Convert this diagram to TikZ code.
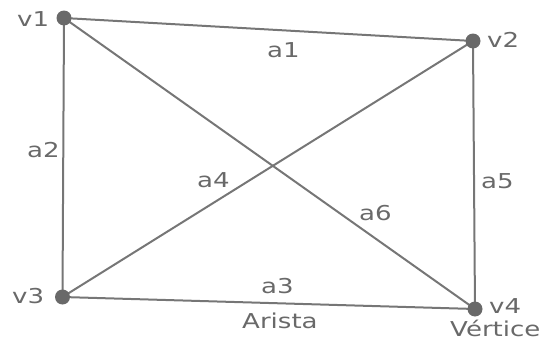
\documentclass[tikz,border=0pt]{standalone}
\usepackage{fontspec}
\setmainfont[FakeStretch=1.27]{DejaVu Sans}
\begin{document}
\begin{tikzpicture}[x=1pt,y=-1pt,
  edge/.style={draw=linegray,line width=2pt},
  vdot/.style={circle,fill=dotgray,minimum size=15pt,inner sep=0pt},
  lbl/.style={anchor=base west,inner sep=0pt,text=textgray,font=\fontsize{20.5}{20.5}\selectfont}]
\definecolor{linegray}{RGB}{118,118,118}
\definecolor{dotgray}{RGB}{105,105,105}
\definecolor{textgray}{RGB}{105,105,105}
\useasboundingbox (0,0) rectangle (542,340);
\coordinate (v1) at (64,18);
\coordinate (v2) at (473,41);
\coordinate (v3) at (62.5,297);
\coordinate (v4) at (475,309);
\draw[edge] (v1) -- (v2);
\draw[edge] (v1) -- (v3);
\draw[edge] (v3) -- (v4);
\draw[edge] (v2) -- (v4);
\draw[edge] (v1) -- (v4);
\draw[edge] (v3) -- (v2);
\node[vdot] (d1) at (v1) {};
\node[vdot] (d2) at (v2) {};
\node[vdot] (d3) at (v3) {};
\node[vdot] (d4) at (v4) {};
\node[lbl] (t1) at (17,27) {v1};
\node[lbl] (t2) at (487,48) {v2};
\node[lbl] (t3) at (12,303) {v3};
\node[lbl] (t4) at (489,313) {v4};
\node[lbl] (tv) at (450,336) {Vértice};
\node[lbl] (ta1) at (267,57) {a1};
\node[lbl] (ta2) at (27,157) {a2};
\node[lbl] (ta3) at (261,293) {a3};
\node[lbl] (tar) at (242,328) {Arista};
\node[lbl] (ta4) at (197,187) {a4};
\node[lbl] (ta5) at (481,188) {a5};
\node[lbl] (ta6) at (359,220) {a6};
\end{tikzpicture}
\end{document}
